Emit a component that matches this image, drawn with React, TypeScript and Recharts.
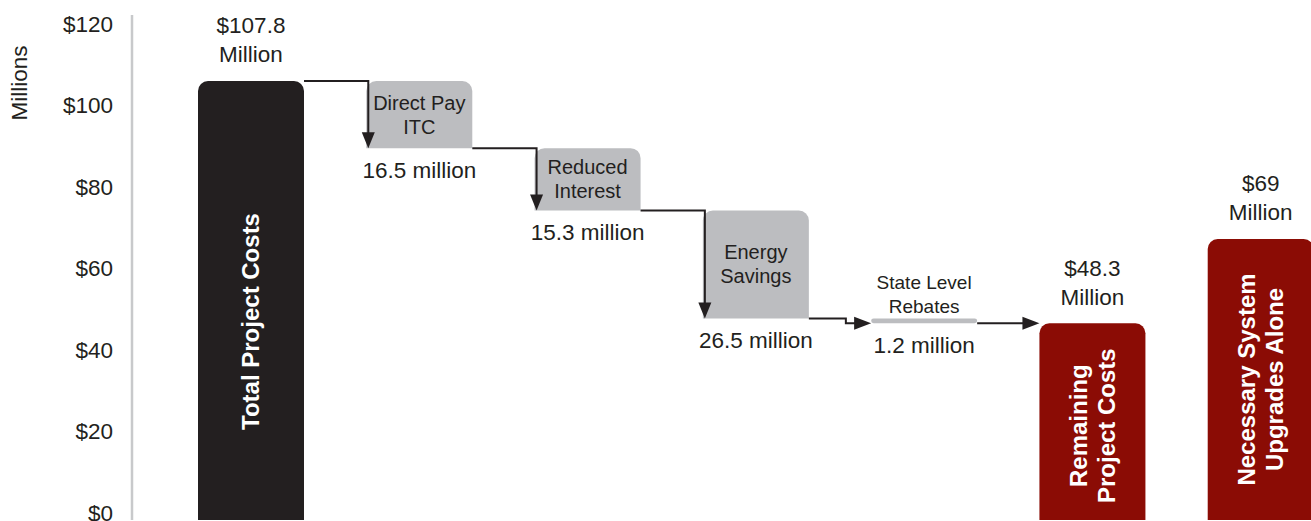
import { BarChart, Bar, XAxis, YAxis, LabelList, Label } from "recharts";

// waterfall steps, left to right
const categories = [
  "Total Project Costs",
  "Direct Pay ITC",
  "Reduced Interest",
  "Energy Savings",
  "State Level Rebates",
  "Remaining Project Costs",
  "Necessary System Upgrades Alone",
];
const amounts = [107.8, 16.5, 15.3, 26.5, 1.2, 48.3, 69];
const barKinds = ["total", "saving", "saving", "saving", "saving", "result", "result"];
const insideText = [
  ["Total Project Costs"],
  ["Direct Pay", "ITC"],
  ["Reduced", "Interest"],
  ["Energy", "Savings"],
  ["State Level", "Rebates"],
  ["Remaining", "Project Costs"],
  ["Necessary System", "Upgrades Alone"],
];
const amountText = [
  ["$107.8", "Million"],
  ["16.5 million"],
  ["15.3 million"],
  ["26.5 million"],
  ["1.2 million"],
  ["$48.3", "Million"],
  ["$69", "Million"],
];
const yTicks = [0, 20, 40, 60, 80, 100, 120];

// floating ranges: savings hang off the running level
let level = 0;
const chartData = categories.map((name, i) => {
  let low = 0;
  let high = amounts[i];
  if (barKinds[i] === "total") {
    level = amounts[i];
  } else if (barKinds[i] === "saving") {
    high = level;
    low = level - amounts[i];
    level = low;
  }
  return { name, range: [low, high] };
});

const CHART_W = 1345;
const AXIS_W = 132;
const PAD_LEFT = 35;
const BAR_W = 106;
const GAP = (CHART_W - AXIS_W - PAD_LEFT) / categories.length - BAR_W;

const FONT = "'Liberation Sans', Arial, sans-serif";
const INK = "#231f20";
const FILLS: Record<string, string> = { total: "#231f20", saving: "#bcbdc0", result: "#8b0c05" };
const innerShift = [21, 0, 0, 0, 0, 4, 0];

function norm(p: any) {
  const vb = p.viewBox && p.viewBox.width != null ? p.viewBox : p;
  const h = Number(vb.height);
  const top = h < 0 ? Number(vb.y) + h : Number(vb.y);
  return { x: Number(vb.x), top, w: Number(vb.width), h: Math.abs(h) };
}

function topRounded(x: number, y: number, w: number, h: number, r: number) {
  if (h < 2 * r) {
    const rr = h / 2;
    return `M${x + rr},${y} H${x + w - rr} A${rr},${rr} 0 0 1 ${x + w - rr},${y + h} H${x + rr} A${rr},${rr} 0 0 1 ${x + rr},${y} Z`;
  }
  return `M${x},${y + h} V${y + r} A${r},${r} 0 0 1 ${x + r},${y} H${x + w - r} A${r},${r} 0 0 1 ${x + w},${y + r} V${y + h} Z`;
}

function StepBar(props: any) {
  const { index } = props;
  const { x, top, w, h } = norm(props);
  const kind = barKinds[index];
  const fromX = x - GAP;
  let connector = null;

  if (kind === "saving" && h > 20) {
    const lx = x + 2;
    const tip = top + h;
    connector = (
      <g>
        <path d={`M${fromX},${top} H${lx} V${tip - 14}`} fill="none" stroke={INK} strokeWidth={2} />
        <polygon points={`${lx - 6.5},${tip - 16} ${lx + 6.5},${tip - 16} ${lx},${tip}`} fill={INK} />
      </g>
    );
  } else if (kind === "saving") {
    const jx = fromX + 37;
    const ly = top + h;
    connector = (
      <g>
        <path d={`M${fromX},${top} H${jx} V${ly} H${x - 14}`} fill="none" stroke={INK} strokeWidth={2} />
        <polygon points={`${x - 17},${ly - 6.5} ${x - 17},${ly + 6.5} ${x},${ly}`} fill={INK} />
      </g>
    );
  } else if (kind === "result" && barKinds[index - 1] === "saving") {
    connector = (
      <g>
        <path d={`M${fromX},${top} H${x - 14}`} fill="none" stroke={INK} strokeWidth={2} />
        <polygon points={`${x - 17},${top - 6.5} ${x - 17},${top + 6.5} ${x},${top}`} fill={INK} />
      </g>
    );
  }

  return (
    <g>
      <path d={topRounded(x, top, w, h, 10)} fill={FILLS[kind]} />
      {connector}
    </g>
  );
}

function BarText(props: any) {
  const { index } = props;
  const { x, top, w, h } = norm(props);
  const kind = barKinds[index];
  const cx = x + w / 2;
  const inner = insideText[index];
  const amount = amountText[index];

  if (kind === "saving") {
    const small = h < 20;
    const mid = small ? top - 24 : top + h / 2;
    return (
      <g fontFamily={FONT}>
        {inner.map((ln, k) => (
          <text key={k} x={cx} y={mid + (k - (inner.length - 1) / 2) * 24} textAnchor="middle"
            dominantBaseline="central" fontSize={small ? 19 : 20} fill={INK}>
            {ln}
          </text>
        ))}
        <text x={cx} y={top + h + 22} textAnchor="middle" dominantBaseline="central" fontSize={22.5} fill={INK}>
          {amount[0]}
        </text>
      </g>
    );
  }

  const cy = top + h / 2 + innerShift[index];
  return (
    <g fontFamily={FONT}>
      {amount.map((ln, k) => (
        <text key={k} x={cx} y={top - 55 + k * 29} textAnchor="middle" dominantBaseline="central"
          fontSize={22.5} fill={INK}>
          {ln}
        </text>
      ))}
      <g transform={`rotate(-90 ${cx} ${cy})`}>
        {inner.map((ln, k) => (
          <text key={k} x={cx} y={cy + (k - (inner.length - 1) / 2) * 28} textAnchor="middle"
            dominantBaseline="central" fontSize={24} fontWeight="bold" fill="#ffffff">
            {ln}
          </text>
        ))}
      </g>
    </g>
  );
}

function YTick(props: any) {
  const { x, y, payload } = props;
  return (
    <text x={x} y={y - 7} textAnchor="end" dominantBaseline="central" fontSize={22.5}
      fontFamily={FONT} fill={INK}>
      ${payload.value}
    </text>
  );
}

function MillionsLabel() {
  return (
    <text x={19} y={83} transform="rotate(-90 19 83)" textAnchor="middle" dominantBaseline="central"
      fontSize={22.5} fontFamily={FONT} fill={INK}>
      Millions
    </text>
  );
}

export default function App() {
  return (
    <div style={{ position: "absolute", left: 0, top: 0, width: 1311, height: 521, overflow: "hidden", background: "#fff" }}>
      <BarChart width={CHART_W} height={521} data={chartData} barSize={BAR_W}
        margin={{ top: 15, right: 0, bottom: 1, left: 0 }}>
        <XAxis dataKey="name" hide padding={{ left: PAD_LEFT, right: 0 }} />
        <YAxis width={AXIS_W} domain={[0, 124]} ticks={yTicks} interval={0} allowDataOverflow
          tickLine={false} tickSize={0} tickMargin={19}
          axisLine={{ stroke: "#c8c9cb", strokeWidth: 2.5 }} tick={<YTick />}>
          <Label content={<MillionsLabel />} />
        </YAxis>
        <Bar dataKey="range" isAnimationActive={false} shape={<StepBar />}>
          <LabelList dataKey="range" content={<BarText />} />
        </Bar>
      </BarChart>
    </div>
  );
}
